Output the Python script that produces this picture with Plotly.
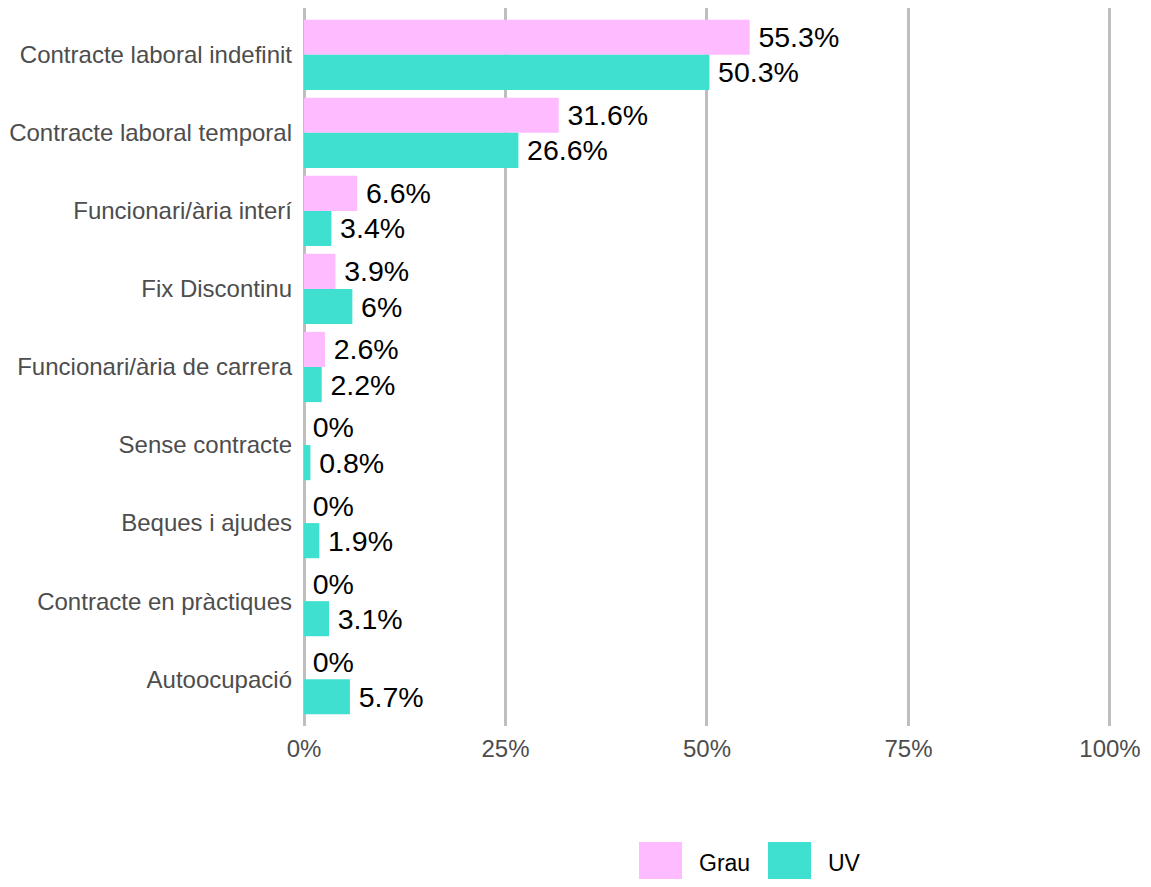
import plotly.graph_objects as go

categories = [
    "Contracte laboral indefinit",
    "Contracte laboral temporal",
    "Funcionari/ària interí",
    "Fix Discontinu",
    "Funcionari/ària de carrera",
    "Sense contracte",
    "Beques i ajudes",
    "Contracte en pràctiques",
    "Autoocupació",
]
grau_values = [55.3, 31.6, 6.6, 3.9, 2.6, 0, 0, 0, 0]
uv_values = [50.3, 26.6, 3.4, 6.0, 2.2, 0.8, 1.9, 3.1, 5.7]
series_names = ["Grau", "UV"]
series_colors = ["#FFBBFF", "#40E0D0"]
x_tick_vals = [0, 25, 50, 75, 100]
x_tick_text = ["0%", "25%", "50%", "75%", "100%"]

FONT = "Arial, Liberation Sans, sans-serif"

def fmt(v):
    return "\u2009" + f"{v:g}%"

fig = go.Figure()
for name, vals, col in zip(series_names, [grau_values, uv_values], series_colors):
    fig.add_trace(go.Bar(
        name=name,
        y=categories,
        x=vals,
        orientation="h",
        marker=dict(color=col, line=dict(width=0)),
        text=[fmt(v) for v in vals],
        textposition="outside",
        textfont=dict(family=FONT, size=28.5, color="black"),
        constraintext="none",
        cliponaxis=False,
        showlegend=False,
        hoverinfo="skip",
    ))

# page body adds an 8px offset; figure is sized to fit the window
OFF = 8
W, H = 1151 - 2 * OFF, 887 - 2 * OFF
L, R, T, B = 304 - OFF, W - (1112 - OFF), 8 - OFF, H - (726 - OFF)
pw = W - L - R
ph = H - T - B

def px_x(sx):
    return (sx - OFF - L) / pw

def px_y(sy):
    return (H - B - (sy - OFF)) / ph

# manual legend with large square keys (screen pixel positions)
legend_keys = [(639, 682, 699), (768, 811, 828)]
for (x0, x1, tx), name, col in zip(legend_keys, series_names, series_colors):
    fig.add_shape(type="rect", xref="paper", yref="paper",
                  x0=px_x(x0), x1=px_x(x1), y0=px_y(884), y1=px_y(842),
                  fillcolor=col, line=dict(width=0), layer="above")
    fig.add_annotation(xref="paper", yref="paper", x=px_x(tx), y=px_y(863),
                       text=name, showarrow=False, xanchor="left", yanchor="middle",
                       xshift=-2,
                       font=dict(family=FONT, size=23, color="black"))

fig.update_layout(
    width=W, height=H,
    margin=dict(l=L, r=R, t=T, b=B, pad=0),
    barmode="group",
    bargap=0.1,
    bargroupgap=0,
    plot_bgcolor="white",
    paper_bgcolor="white",
    font=dict(family=FONT),
    xaxis=dict(
        range=[0, 100.25],
        tickvals=x_tick_vals,
        ticktext=x_tick_text,
        showgrid=True,
        gridcolor="#BEBEBE",
        gridwidth=2.5,
        zeroline=True,
        zerolinecolor="#BEBEBE",
        zerolinewidth=2.5,
        showline=False,
        ticks="",
        ticklabelstandoff=6,
        tickfont=dict(family=FONT, size=24, color="#4D4D4D"),
    ),
    yaxis=dict(
        type="category",
        categoryorder="array",
        categoryarray=categories,
        range=[8.6, -0.6],
        showgrid=False,
        zeroline=False,
        showline=False,
        ticks="",
        ticklabelstandoff=11,
        tickfont=dict(family=FONT, size=24, color="#4D4D4D"),
    ),
)

fig.write_html("out.html")
